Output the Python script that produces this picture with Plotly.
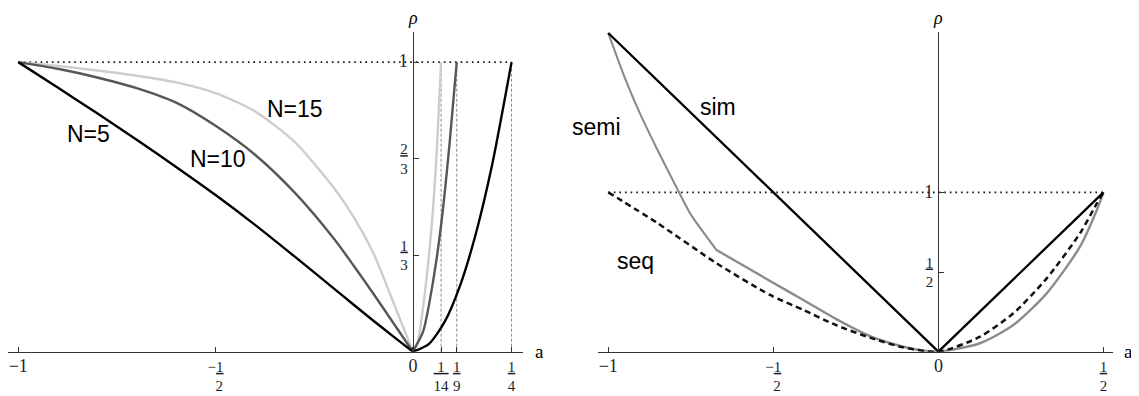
import plotly.graph_objects as go

# ---------------- data (left panel) ----------------
a_neg = [-1, -0.9, -0.8, -0.7, -0.6, -0.5, -0.4, -0.3, -0.2, -0.15, -0.1, -0.05, 0]
rho5_neg = [1, 0.912, 0.823, 0.732, 0.638, 0.541, 0.438, 0.329, 0.218, 0.162, 0.107, 0.053, 0]
rho10_neg = [1, 0.977, 0.947, 0.91, 0.86, 0.78, 0.68, 0.55, 0.39, 0.297, 0.2, 0.1, 0]
rho15_neg = [1, 0.987, 0.971, 0.953, 0.93, 0.893, 0.83, 0.725, 0.565, 0.465, 0.34, 0.172, 0]

a5_pos = [0, 0.04, 0.08, 0.12, 0.16, 0.2, 0.25]
rho5_pos = [0, 0.026, 0.102, 0.23, 0.41, 0.64, 1]
a10_pos = [0, 0.026, 0.052, 0.0735, 0.093, 0.1111]
rho10_pos = [0, 0.07, 0.25, 0.46, 0.72, 1]
a15_pos = [0, 0.013, 0.026, 0.039, 0.052, 0.062, 0.0714]
rho15_pos = [0, 0.04, 0.155, 0.31, 0.51, 0.73, 1]

left_ref_x = [-1, 0.25]
left_ref_y = [1, 1]
left_vlines = [1 / 14, 1 / 9, 1 / 4]

BIG = '<span style="font-size:18px">'
left_xticks = [-1, -0.5, 0, 1 / 14, 1 / 9, 1 / 4]
left_xticktext = [BIG + "\u22121</span>",
                  "\u2212<u>1</u><br>\u00a0\u00a02",
                  BIG + "0</span>",
                  "<u>\u00a01\u00a0</u><br>14",
                  "<u>1</u><br>9",
                  "<u>1</u><br>4"]
left_yticks = [1 / 3, 2 / 3, 1]
left_yticktext = ["<u>1</u><br>3", "<u>2</u><br>3", BIG + "1</span>"]

# ---------------- data (right panel) ----------------
sim_a = [-1, 0, 0.5]
sim_rho = [2, 0, 1]
seq_a = [-1, -0.853, -0.672, -0.51, -0.409, -0.308, -0.207, -0.106, 0,
         0.126, 0.227, 0.328, 0.429, 0.48, 0.5]
seq_rho = [1, 0.81, 0.555, 0.356, 0.262, 0.165, 0.088, 0.027, 0,
           0.094, 0.241, 0.46, 0.743, 0.93, 1]
semi_a1 = [-1, -0.955, -0.904, -0.853, -0.788, -0.752, -0.672]
semi_rho1 = [2, 1.747, 1.495, 1.275, 1.01, 0.868, 0.638]
semi_a2 = [-0.672, -0.51, -0.409, -0.308, -0.207, -0.106, -0.05, 0,
           0.126, 0.227, 0.328, 0.429, 0.48, 0.5]
semi_rho2 = [0.638, 0.444, 0.324, 0.203, 0.098, 0.031, 0.008, 0,
             0.053, 0.167, 0.366, 0.659, 0.889, 1]
right_ref_x = [-1, 0.5]
right_ref_y = [1, 1]

right_xticks = [-1, -0.5, 0, 0.5]
right_xticktext = [BIG + "\u22121</span>",
                   "\u2212<u>1</u><br>\u00a0\u00a02",
                   BIG + "0</span>",
                   "<u>1</u><br>2"]
right_yticks = [0.5, 1]
right_yticktext = ["<u>1</u><br>2", BIG + "1</span>"]

# The page body has an 8px margin, so the figure is drawn 8px in.
OFF = 8
W, H = 1139 - OFF, 396 - OFF
AX = "#333333"
SERIF = "Liberation Serif, Times New Roman, serif"
SANS = "Liberation Sans, Arial, sans-serif"


def fx(p):
    return max(0.0, (p - OFF) / W)


def fy(p):
    return 1 - (p - OFF) / H


fig = go.Figure()


def line(x, y, color, width=2.4, dash=None, xa="x", ya="y", shape="spline"):
    fig.add_trace(go.Scatter(x=x, y=y, mode="lines", xaxis=xa, yaxis=ya,
                             line=dict(color=color, width=width, dash=dash,
                                       shape=shape, smoothing=0.7),
                             showlegend=False, hoverinfo="skip"))


# left panel reference lines
line(left_ref_x, left_ref_y, "#111111", 1.6, "1.6px,4px", shape="linear")
for v in left_vlines:
    line([v, v], [0, 1], "#7a7a7a", 0.9, "3px,2px", shape="linear")

# left curves
line(a_neg, rho15_neg, "#cdcdcd")
line(a15_pos, rho15_pos, "#cdcdcd")
line(a_neg, rho10_neg, "#575757")
line(a10_pos, rho10_pos, "#575757")
line(a_neg, rho5_neg, "#000000")
line(a5_pos, rho5_pos, "#000000")

# right panel
line(right_ref_x, right_ref_y, "#111111", 1.6, "1.6px,4px", xa="x2", ya="y2", shape="linear")
line(semi_a1, semi_rho1, "#8c8c8c", 2.1, xa="x2", ya="y2")
line(semi_a2, semi_rho2, "#8c8c8c", 2.4, xa="x2", ya="y2")
line(seq_a, seq_rho, "#111111", 2.5, "6px,4px", xa="x2", ya="y2")
line(sim_a, sim_rho, "#000000", 2.3, xa="x2", ya="y2", shape="linear")

ydom = [fy(351.7), fy(32)]

common_x = dict(showline=True, linecolor=AX, linewidth=1.3, ticks="inside",
                ticklen=5, tickcolor=AX, tickwidth=1.2, showgrid=False,
                zeroline=False, tickmode="array", automargin=False,
                ticklabelstandoff=1,
                tickfont=dict(family=SERIF, size=15, color="#1e1e2a"))
common_y = dict(showline=True, linecolor=AX, linewidth=1.3, ticks="inside",
                ticklen=5, tickcolor=AX, tickwidth=1.2, showgrid=False,
                zeroline=False, tickmode="array", anchor="free", automargin=False,
                ticklabelstandoff=2,
                tickfont=dict(family=SERIF, size=15, color="#1e1e2a"))

xl0, xr0 = -1.026, 0.279
xl1, xr1 = -1.031, 0.528
fig.update_layout(
    width=W, height=H,
    margin=dict(l=0, r=0, t=0, b=0, pad=0, autoexpand=False),
    paper_bgcolor="white", plot_bgcolor="white",
    xaxis=dict(domain=[fx(8), fx(523)], range=[xl0, xr0], anchor="y",
               tickvals=left_xticks, ticktext=left_xticktext, **common_x),
    yaxis=dict(domain=ydom, range=[0, 1.104], position=fx(413),
               tickvals=left_yticks, ticktext=left_yticktext, **common_y),
    xaxis2=dict(domain=[fx(598), fx(1112.7)], range=[xl1, xr1], anchor="y2",
                tickvals=right_xticks, ticktext=right_xticktext, **common_x),
    yaxis2=dict(domain=ydom, range=[0, 2.006], position=fx(938.3),
                tickvals=right_yticks, ticktext=right_yticktext, **common_y),
)

ann = []


def label(text, x, y, xref, yref, size=23, family=SANS, italic=False, **kw):
    ann.append(dict(text=text, x=x, y=y, xref=xref, yref=yref, showarrow=False,
                    font=dict(family=family, size=size, color="#000000",
                              style="italic" if italic else "normal"), **kw))


label("N=5", -0.821, 0.752, "x", "y")
label("N=10", -0.494, 0.666, "x", "y")
label("N=15", -0.299, 0.838, "x", "y")
label("sim", -0.668, 1.535, "x2", "y2")
label("semi", -1.0, 1.41, "x2", "y2", xshift=-12)
label("seq", -0.916, 0.569, "x2", "y2")

label("\u03c1", 0, 1.1, "x", "y", size=18, family=SERIF, italic=True,
      yanchor="middle", yshift=15)
label("\u03c1", 0, 2.0, "x2", "y2", size=18, family=SERIF, italic=True,
      yanchor="middle", yshift=15)
label("a", 0.25, 0, "x", "y", size=19, family=SERIF, yanchor="middle",
      xanchor="center", xshift=28)
label("a", 0.5, 0, "x2", "y2", size=19, family=SERIF, yanchor="middle",
      xanchor="center", xshift=25)

fig.update_layout(annotations=ann)
fig.write_html("out.html")
